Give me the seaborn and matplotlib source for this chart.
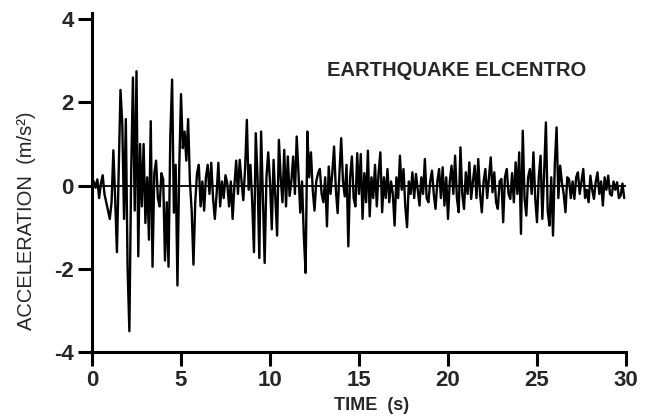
import matplotlib
matplotlib.use("Agg")
import matplotlib.pyplot as plt
import numpy as np
import pandas as pd
import seaborn as sns

dt = 0.1
accel = [
    0.0, 0.1, -0.05, 0.15, -0.3, 0.05, 0.25, -0.2, -0.4, -0.6,
    -0.8, -0.4, 0.85, -0.3, -1.6, 0.4, 2.3, 1.5, -0.8, 1.6,
    -2.0, -3.5, 0.3, 2.6, -0.6, 2.75, -1.7, 1.0, -0.5, 1.0,
    -0.9, 0.2, -1.3, 1.55, -1.95, 0.3, 0.6, -0.3, -0.5, 0.3,
    0.15, -1.8, -0.4, -1.95, 1.2, 2.55, -0.65, 0.5, -2.4, 0.4,
    2.2, 0.9, 1.3, 0.6, 1.6, 0.1, -0.6, -1.9, -0.4, 0.3,
    0.5, -0.5, 0.1, -0.6, 0.2, 0.5, -0.2, 0.55, -0.3, -0.8,
    -0.2, 0.55, -0.5, 0.1, -0.3, 0.25, 0.05, -0.5, 0.1, -0.8,
    0.0, 0.6, -0.2, 0.62, 0.1, -0.35, 0.4, 1.58, -0.1, 0.5,
    -0.4, -1.6, 1.26, 0.2, -1.74, 1.3, -0.3, -1.86, 0.2, 0.8,
    0.1, -1.05, 0.62, -0.3, -1.2, 1.1, 0.2, -0.4, 0.86, -0.5,
    0.7, -0.25, 0.1, 0.7, -0.2, 1.18, 0.3, -0.65, 0.1, -1.2,
    -2.1, 1.3, 0.2, 0.8, -0.1, -0.6, 0.1, 0.3, 0.4, -0.2,
    -0.4, 0.2, -0.98, 0.46, -0.2, 0.3, 0.94, -0.1, -0.66, 0.3,
    1.14, 0.1, -0.26, 0.5, -1.46, 0.2, 0.7, -0.3, -0.5, 0.78,
    -0.2, 0.76, -0.8, 0.3, -0.4, 0.84, -0.74, 0.2, -0.3, 0.5,
    -0.5, 0.3, 0.8, -0.64, 0.2, -0.3, 0.4, -0.4, 0.1, -0.2,
    -0.96, 0.2, -0.3, 0.72, -0.1, 0.4, -0.5, -1.0, 0.1, -0.2,
    0.32, -0.3, 0.28, -0.1, -0.48, 0.2, -0.2, 0.64, -0.3, -0.4,
    0.1, 0.36, -0.2, -0.56, 0.1, 0.4, -0.3, 0.44, -0.48, 0.2,
    -0.8, 0.1, 0.48, -0.2, 0.72, -0.3, -0.64, 0.92, -0.2, -0.56,
    0.32, -0.2, 0.56, -0.32, 0.1, 0.48, -0.3, 0.64, -0.2, -0.64,
    0.1, 0.4, -0.3, 0.2, 0.68, -0.16, 0.32, -0.4, -0.56, 0.1,
    0.16, -0.88, 0.2, 0.4, -0.2, -0.32, 0.3, -0.4, 0.56, -0.2,
    0.8, -1.16, 1.32, -0.3, -0.72, 0.2, 0.4, -0.2, 0.8, -0.3,
    -0.88, 0.2, 0.72, -0.8, 0.3, 1.52, -0.6, -0.96, 0.2, -1.2,
    0.5, 1.4, -0.3, 0.48, 0.08, -0.2, -0.64, 0.2, 0.16, -0.3,
    0.1, -0.32, 0.2, 0.32, -0.2, 0.1, 0.4, -0.3, -0.1, -0.4,
    0.24, -0.1, -0.32, 0.1, 0.32, -0.2, 0.1, -0.48, 0.2, -0.1,
    0.24, -0.2, -0.24, 0.1, -0.1, 0.08, -0.3, -0.24, 0.05, -0.3,
]
xticks = [0, 5, 10, 15, 20, 25, 30]
yticks = [-4, -2, 0, 2, 4]
ytick_labels = ["-4", "-2", "0", "2", "4"]
title = "EARTHQUAKE ELCENTRO"

df = pd.DataFrame({"time": np.arange(len(accel)) * dt, "accel": accel})

sns.set_theme(style="ticks")
plt.rcParams["font.family"] = ["Liberation Sans", "DejaVu Sans"]
plt.rcParams["axes.unicode_minus"] = False

fig = plt.figure(figsize=(6.55, 4.17), dpi=100)
ax = fig.add_axes([92 / 655, 1 - 352 / 417, 534 / 655, 339 / 417])

ax.axhline(0, color="black", lw=1.3, zorder=1)
sns.lineplot(data=df, x="time", y="accel", color="black", lw=1.7, ax=ax, zorder=2)

ax.set_xlim(0, 30)
ax.set_ylim(-4, 4.15)
ax.set_xticks(xticks)
ax.set_yticks(yticks)
ax.set_yticklabels(ytick_labels)
for lab in ax.get_xticklabels() + ax.get_yticklabels():
    lab.set_fontweight("bold")
    lab.set_fontsize(16)
ax.tick_params(direction="out", length=10, width=2.2, color="black", pad=3)

sns.despine(ax=ax)
for side in ["left", "bottom"]:
    ax.spines[side].set_linewidth(2.2)
    ax.spines[side].set_color("black")

ax.set_xlabel("")
ax.set_ylabel("")
fig.text(372 / 655, 1 - 405 / 417, "TIME  (s)", ha="center", va="center",
         fontsize=13, fontweight="bold")
fig.text(27 / 655, 1 - 221 / 417, "ACCELERATION  (m/s²)", ha="center", va="center",
         rotation=90, fontsize=14.5)
ax.text(13.2, 2.76, title, ha="left", va="center", fontsize=14.5, fontweight="bold")

fig.savefig("out.png", dpi=100, facecolor="white")
